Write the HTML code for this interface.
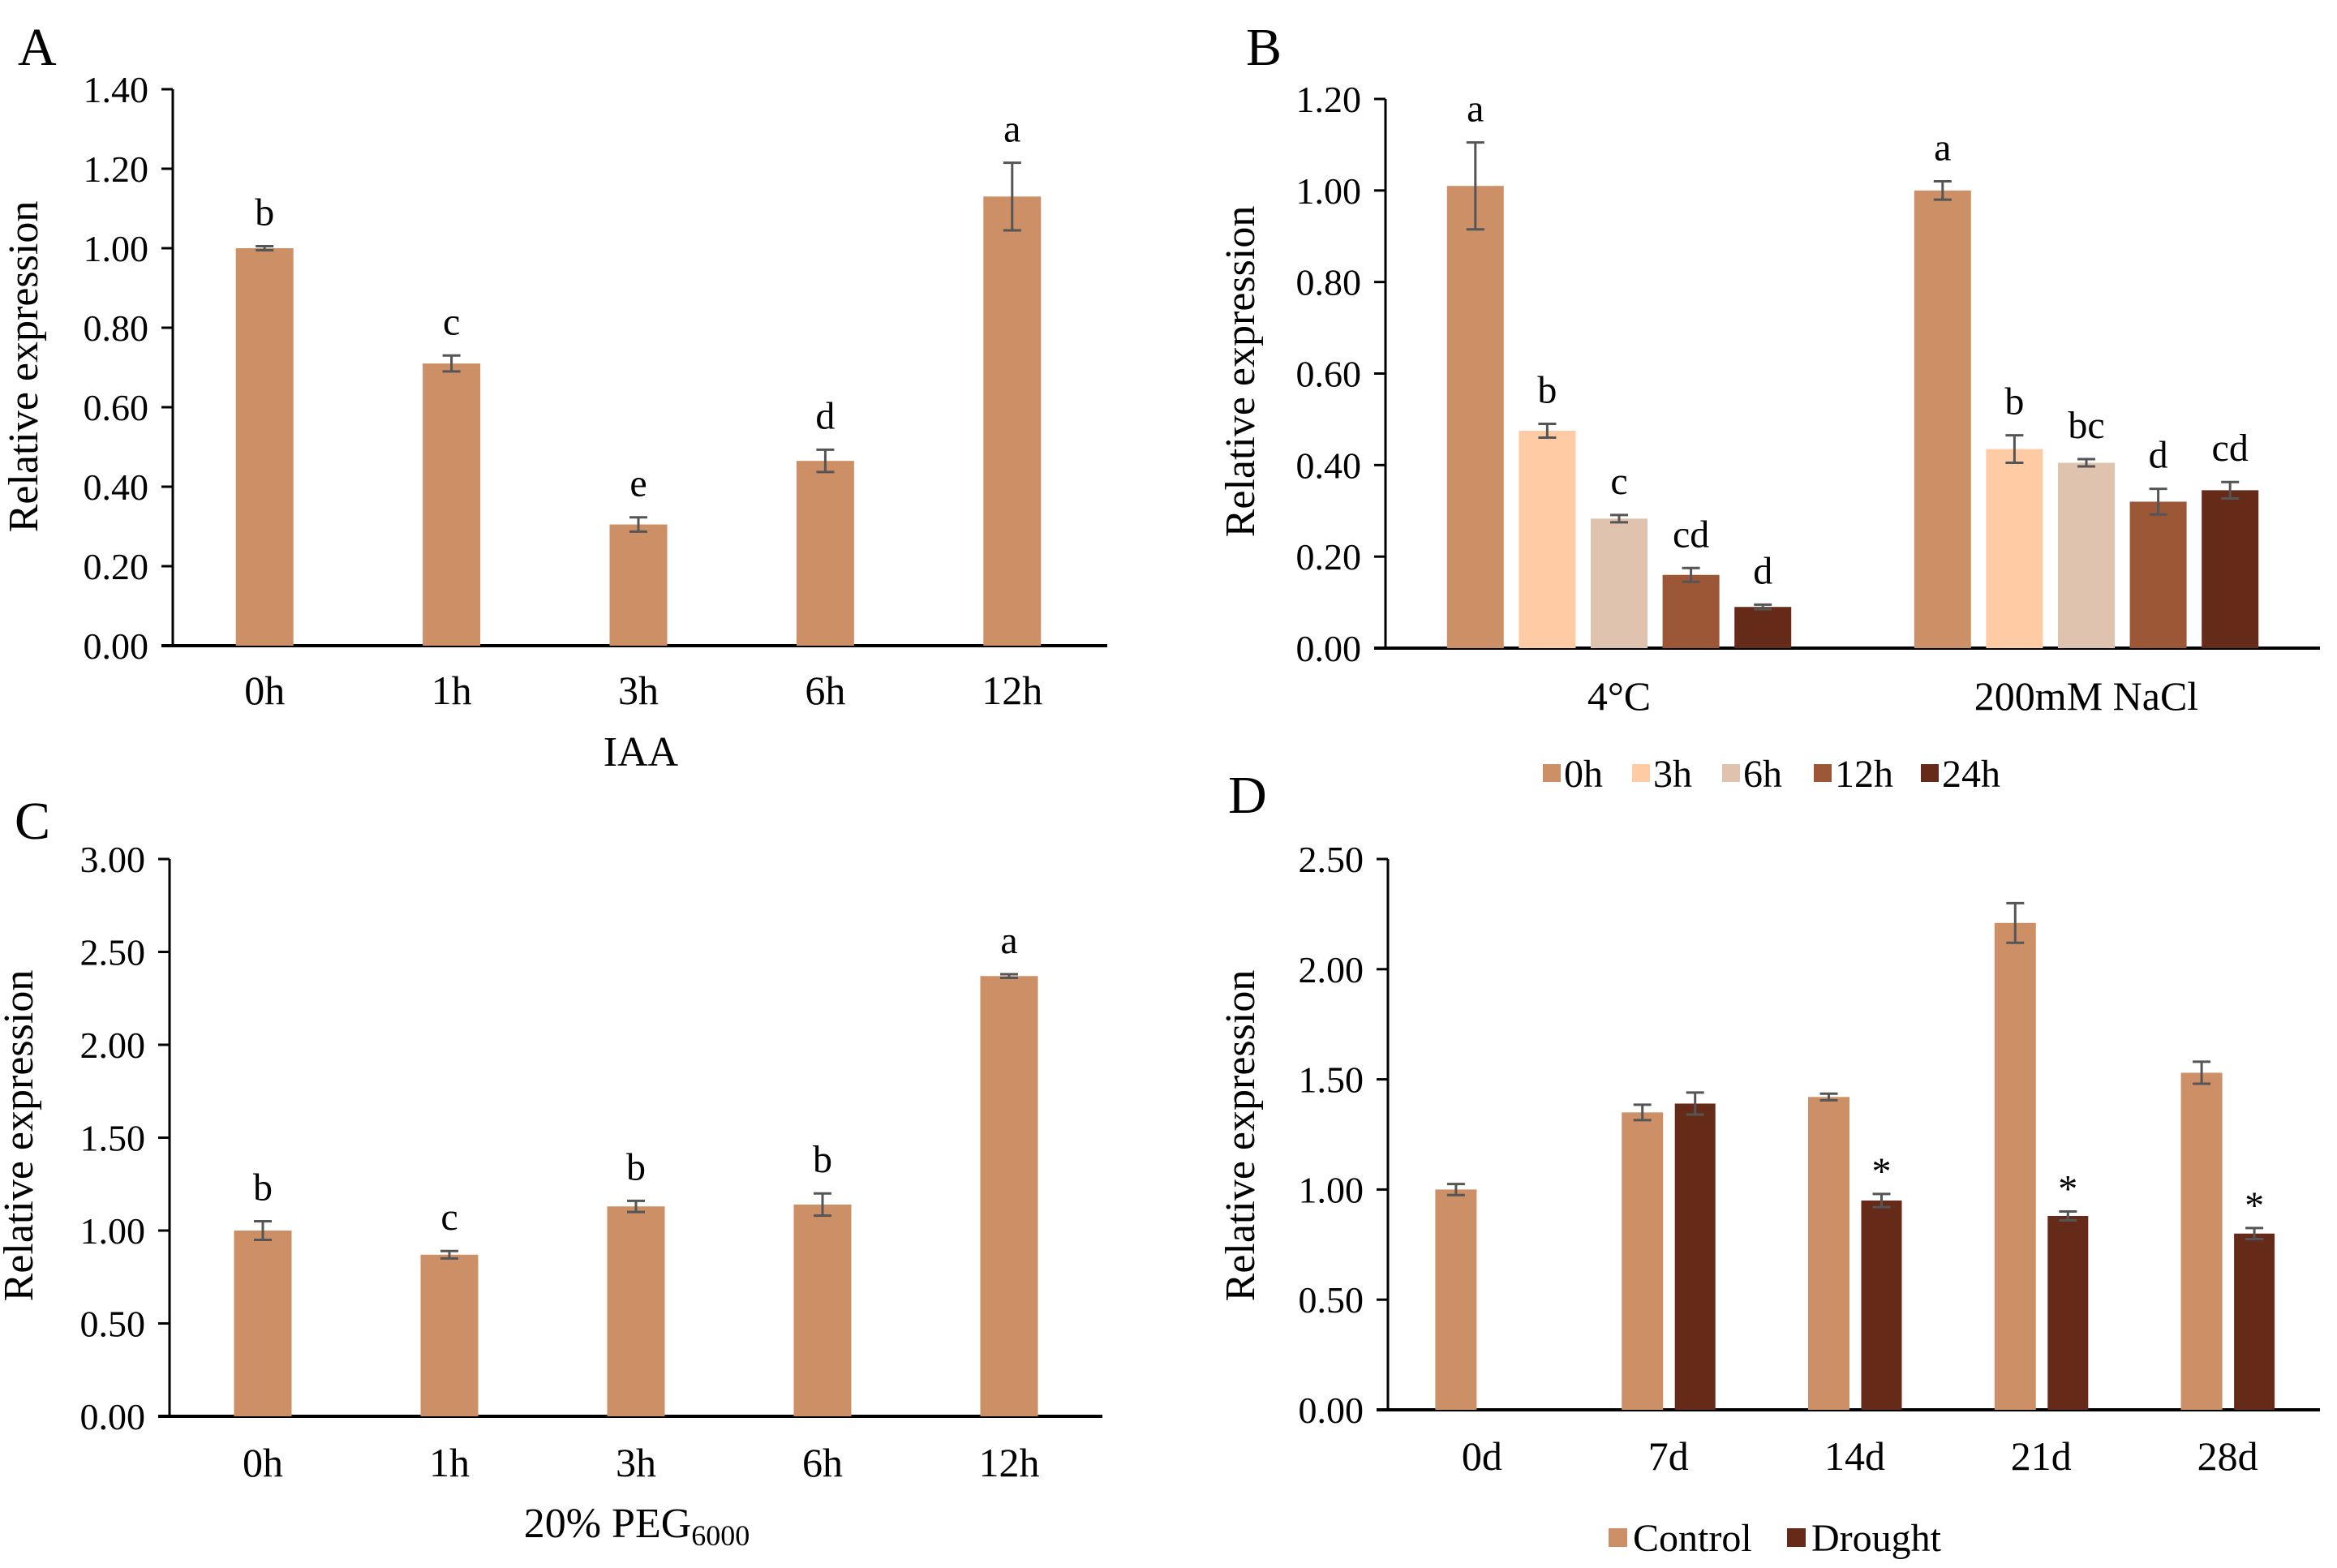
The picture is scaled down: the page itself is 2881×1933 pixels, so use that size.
<!DOCTYPE html>
<html><head><meta charset="utf-8"><style>
html,body{margin:0;padding:0;background:#fff}
svg{display:block}
text{font-family:"Liberation Serif",serif;fill:#000}
</style></head><body>
<svg id="fig" width="2881" height="1933" viewBox="0 0 2881 1933" xmlns="http://www.w3.org/2000/svg">
<text x="22" y="80" font-size="66">A</text>
<text x="1536" y="80" font-size="66">B</text>
<text x="18" y="1034" font-size="66">C</text>
<text x="1514" y="1002" font-size="66">D</text>
</svg>
<script>
const aCategories=["0h","1h","3h","6h","12h"];
const aValues=[1.00,0.71,0.305,0.465,1.13];
const aErrors=[0.005,0.02,0.018,0.028,0.085];
const aLetters=["b","c","e","d","a"];
const aTicks=["0.00","0.20","0.40","0.60","0.80","1.00","1.20","1.40"];

const bCategories=["4°C","200mM NaCl"];
const bSeries=["0h","3h","6h","12h","24h"];
const bVals0h=[1.01,1.00];
const bVals3h=[0.475,0.435];
const bVals6h=[0.283,0.405];
const bVals12h=[0.16,0.32];
const bVals24h=[0.09,0.345];
const bErr0h=[0.095,0.02];
const bErr3h=[0.015,0.03];
const bErr6h=[0.008,0.008];
const bErr12h=[0.015,0.028];
const bErr24h=[0.005,0.018];
const bLet0h=["a","a"];
const bLet3h=["b","b"];
const bLet6h=["c","bc"];
const bLet12h=["cd","d"];
const bLet24h=["d","cd"];
const bTicks=["0.00","0.20","0.40","0.60","0.80","1.00","1.20"];

const cCategories=["0h","1h","3h","6h","12h"];
const cValues=[1.00,0.87,1.13,1.14,2.37];
const cErrors=[0.05,0.02,0.03,0.06,0.01];
const cLetters=["b","c","b","b","a"];
const cTicks=["0.00","0.50","1.00","1.50","2.00","2.50","3.00"];

const dCategories=["0d","7d","14d","21d","28d"];
const dControl=[1.00,1.35,1.42,2.21,1.53];
const dControlErr=[0.025,0.035,0.015,0.09,0.05];
const dDrought=[null,1.39,0.95,0.88,0.80];
const dDroughtErr=[null,0.05,0.03,0.02,0.025];
const dMarks=["","","*","*","*"];
const dTicks=["0.00","0.50","1.00","1.50","2.00","2.50"];

const NS="http://www.w3.org/2000/svg";
const svg=document.getElementById("fig");
function mk(tag,attrs,parent,txt){const e=document.createElementNS(NS,tag);for(const k in attrs)e.setAttribute(k,attrs[k]);if(txt!==undefined)e.textContent=txt;(parent||svg).appendChild(e);return e;}

function axes(g,P,ticks){
  const max=parseFloat(ticks[ticks.length-1]);
  const y=v=>P.y0-(v/max)*(P.y0-P.yTop);
  mk("line",{x1:P.x0,y1:P.yTop,x2:P.x0,y2:P.y0+2,stroke:"#000","stroke-width":3},g);
  mk("line",{x1:P.x0-14,y1:P.y0,x2:P.xEnd,y2:P.y0,stroke:"#000","stroke-width":4},g);
  ticks.forEach(t=>{
    const yy=y(parseFloat(t));
    const tk=mk("line",{x1:P.x0-14,y1:yy,x2:P.x0,y2:yy,stroke:"#000","stroke-width":3},g);
    
    
    const tl=mk("text",{x:P.x0-30,y:yy+16,"font-size":46,"text-anchor":"end"},g,t);
    
    
  });
  const yt=mk("text",{x:0,y:0,"font-size":52,"text-anchor":"middle",transform:`translate(${P.titleX},${P.titleY}) rotate(-90)`},g,"Relative expression");
  
  
  return y;
}
function bar(g,cx,w,v,e,color,y,lab,name){
  const r=mk("rect",{x:cx-w/2,y:y(v),width:w,height:y(0)-y(v),fill:color},g);
  
  
  const t=y(v+e),b=y(v-e);
  const eb=mk("path",{d:`M${cx},${t}V${b}M${cx-11},${t}H${cx+11}M${cx-11},${b}H${cx+11}`,stroke:"#555","stroke-width":3,fill:"none"},g);
  
  
  if(lab){
    const lt=mk("text",{x:cx,y:t-(lab==="*"?12:26),"font-size":lab==="*"?48:48,"text-anchor":"middle"},g,lab);
    
    
  }
}
function catLabel(g,x,y,t){
  const c=mk("text",{x:x,y:y,"font-size":50,"text-anchor":"middle"},g,t);
  
  
}
const C0="#CD9066";

// Panel A
{
  const g=mk("g",{});
  
  
  const P={x0:213,xEnd:1365,yTop:110,y0:796,titleX:46,titleY:452};
  const y=axes(g,P,aTicks);
  const step=(1365-213)/aCategories.length;
  aCategories.forEach((c,i)=>{
    const cx=213+step*(i+0.5)-2;
    bar(g,cx,71,aValues[i],aErrors[i],C0,y,aLetters[i],'bar-'+c);
    catLabel(g,cx,868,c);
  });
  const t=mk("text",{x:790,y:944,"font-size":52,"text-anchor":"middle"},g,"IAA");
  
  
}
// Panel B
{
  const g=mk("g",{});
  
  
  const P={x0:1708,xEnd:2860,yTop:122,y0:799,titleX:1546,titleY:458};
  const y=axes(g,P,bTicks);
  const vals=[bVals0h,bVals3h,bVals6h,bVals12h,bVals24h];
  const errs=[bErr0h,bErr3h,bErr6h,bErr12h,bErr24h];
  const lets=[bLet0h,bLet3h,bLet6h,bLet12h,bLet24h];
  const cols=["#CD9066","#FFCBA4","#DFC3AE","#9B5736","#652A18"];
  const step=(2860-1708)/bCategories.length;
  bCategories.forEach((c,i)=>{
    const gc=1708+step*(i+0.5)+0;
    bSeries.forEach((s,j)=>{
      const cx=gc+(j-2)*88.6;
      bar(g,cx,70,vals[j][i],errs[j][i],cols[j],y,lets[j][i],'bar-'+s);
    });
    catLabel(g,gc,875,c);
  });
  const lx=[1902,2012,2123,2236,2368];
  bSeries.forEach((s,j)=>{
    const r=mk("rect",{x:lx[j],y:942,width:22,height:22,fill:cols[j]},g);
    
    
    const t=mk("text",{x:lx[j]+26,y:970,"font-size":48},g,s);
    
    
  });
}
// Panel C
{
  const g=mk("g",{});
  
  
  const P={x0:209,xEnd:1359,yTop:1059,y0:1746,titleX:40,titleY:1400};
  const y=axes(g,P,cTicks);
  const step=(1359-209)/cCategories.length;
  cCategories.forEach((c,i)=>{
    const cx=209+step*(i+0.5)+0;
    bar(g,cx,71,cValues[i],cErrors[i],C0,y,cLetters[i],'bar-'+c);
    catLabel(g,cx,1820,c);
  });
  const t=mk("text",{x:785,y:1895,"font-size":52,"text-anchor":"middle"},g);
  
  
  t.appendChild(document.createTextNode("20% PEG"));
  const sub=mk("tspan",{"font-size":36,dy:10},t,"6000");
}
// Panel D
{
  const g=mk("g",{});
  
  
  const P={x0:1711,xEnd:2860,yTop:1059,y0:1738,titleX:1546,titleY:1400};
  const y=axes(g,P,dTicks);
  const step=(2860-1711)/dCategories.length;
  dCategories.forEach((c,i)=>{
    const gc=1711+step*(i+0.5)+1;
    bar(g,gc-32,51,dControl[i],dControlErr[i],C0,y,"",'bar-control-'+c);
    if(dDrought[i]!==null) bar(g,gc+33,50,dDrought[i],dDroughtErr[i],"#652A18",y,dMarks[i],'bar-drought-'+c);
    catLabel(g,gc,1812,c);
  });
  const items=[["Control",C0,1983],["Drought","#652A18",2203]];
  items.forEach(it=>{
    const r=mk("rect",{x:it[2],y:1884,width:23,height:23,fill:it[1]},g);
    
    
    const t=mk("text",{x:it[2]+30,y:1912,"font-size":48},g,it[0]);
    
    
  });
}
</script>
</body></html>
